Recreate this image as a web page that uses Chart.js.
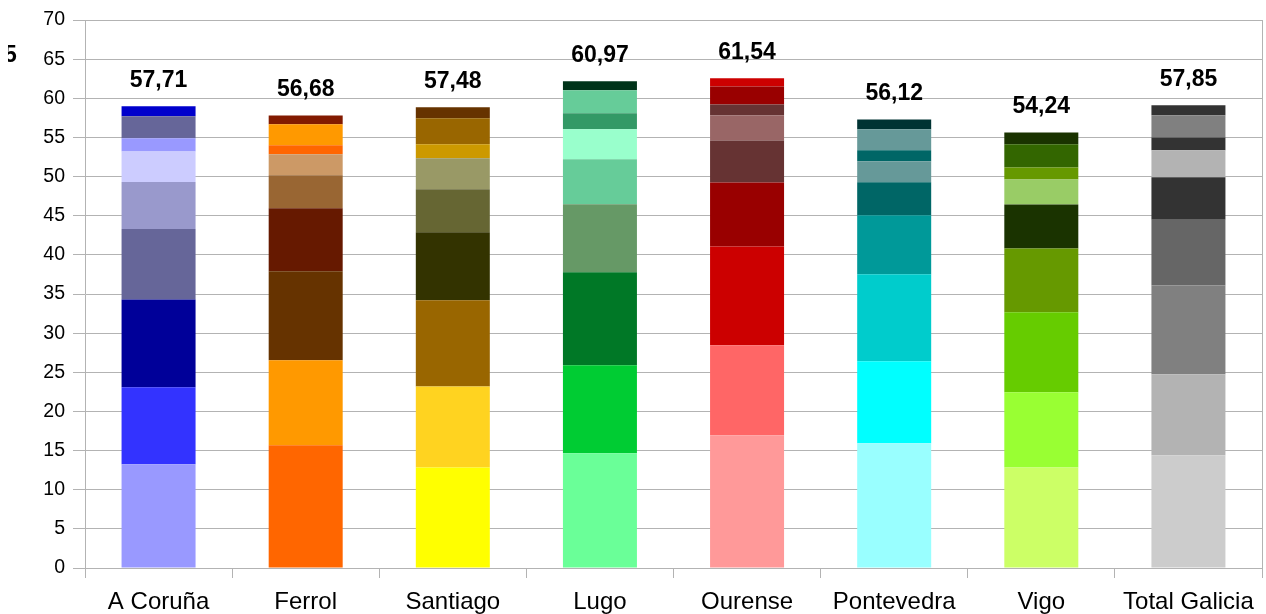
<!DOCTYPE html>
<html>
<head>
<meta charset="utf-8">
<script src="https://cdn.jsdelivr.net/npm/chart.js@4/dist/chart.umd.min.js"></script>
<style>
  html, body { margin: 0; padding: 0; background: #fff; }
  #wrap { width: 1266px; height: 614px; }
</style>
</head>
<body>
<div id="wrap"><canvas id="chart" width="1266" height="614"></canvas></div>
<script>
// categories along the x axis
const categories = ["A Coruña", "Ferrol", "Santiago", "Lugo", "Ourense", "Pontevedra", "Vigo", "Total Galicia"];

// stacked segments, bottom to top (one array per stack level)
const seg1 = [13.25, 15.67, 12.85, 14.65, 16.96, 15.93, 12.85, 14.40];
const seg2 = [9.83, 10.86, 10.35, 11.24, 11.49, 10.47, 9.59, 10.34];
const seg3 = [11.22, 11.37, 10.99, 11.88, 12.62, 11.13, 10.22, 11.36];
const seg4 = [9.00, 8.05, 8.69, 8.69, 8.17, 7.53, 8.16, 8.40];
const seg5 = [6.00, 4.22, 5.49, 5.74, 5.36, 4.22, 5.62, 5.40];
const seg6 = [3.90, 2.68, 3.96, 3.84, 3.22, 2.68, 3.20, 3.46];
const seg7 = [1.70, 1.15, 1.79, 2.04, 1.40, 1.40, 1.52, 1.64];
const seg8 = [2.80, 2.67, 3.32, 2.94, 2.30, 2.68, 2.96, 2.82];
const seg9 = [1.27, 1.13, 1.41, 1.15, 1.03, 1.26, 1.52, 1.28];

// value printed above each bar
const totals = [57.71, 56.68, 57.48, 60.97, 61.54, 56.12, 54.24, 57.85];

// y axis ticks
const yMin = 0, yMax = 70, yStep = 5;

// colours per category, bottom to top
const palette = [
    ["#9999FF", "#3333FF", "#000099", "#666699", "#9999CC", "#CCCCFF", "#9999FF", "#666699", "#0000CC"],
    ["#FF6600", "#FF9900", "#663300", "#661900", "#996633", "#CC9966", "#FF6600", "#FF9900", "#821A00"],
    ["#FFFF00", "#FFD320", "#996600", "#333300", "#666633", "#999966", "#CC9900", "#996600", "#663300"],
    ["#6AFF98", "#00CC33", "#007826", "#669966", "#66CC99", "#99FFCC", "#339966", "#66CC99", "#003319"],
    ["#FF9999", "#FF6666", "#CC0000", "#990000", "#663333", "#996666", "#663333", "#990000", "#CC0000"],
    ["#99FFFF", "#00FFFF", "#00CCCC", "#009999", "#006666", "#669999", "#006666", "#669999", "#003333"],
    ["#CCFF66", "#99FF33", "#66CC00", "#669900", "#1A3300", "#99CC66", "#669900", "#336600", "#1A3300"],
    ["#CCCCCC", "#B3B3B3", "#808080", "#666666", "#333333", "#B3B3B3", "#333333", "#808080", "#333333"]
];

const segments = [seg1, seg2, seg3, seg4, seg5, seg6, seg7, seg8, seg9];
const gridColor = "#b3b3b3";
const font = "'Liberation Sans', Arial, sans-serif";

const datasets = segments.map((vals, level) => ({
    label: "s" + (level + 1),
    data: vals,
    backgroundColor: palette.map(cols => cols[level]),
    borderWidth: 0,
    barPercentage: 0.503,
    categoryPercentage: 1.0
}));

// labels above the bars + right frame line + clipped "5"
const extras = {
    id: "extras",
    afterDraw(chart) {
        const ctx = chart.ctx;
        const area = chart.chartArea;
        ctx.save();
        ctx.strokeStyle = gridColor;
        ctx.lineWidth = 1;
        ctx.beginPath();
        ctx.moveTo(Math.round(area.right) + 0.5, area.top);
        ctx.lineTo(Math.round(area.right) + 0.5, area.bottom);
        ctx.stroke();

        const top = chart.getDatasetMeta(segments.length - 1);
        ctx.fillStyle = "#000";
        ctx.font = "bold 23px " + font;
        ctx.textAlign = "center";
        ctx.textBaseline = "middle";
        top.data.forEach((bar, i) => {
            ctx.fillText(totals[i].toFixed(2).replace(".", ","), bar.x, bar.y - 26);
        });

        ctx.beginPath();
        ctx.rect(8, 0, 20, 100);
        ctx.clip();
        ctx.textAlign = "left";
        ctx.fillText("5", 4, 56);
        ctx.restore();
    }
};

new Chart(document.getElementById("chart"), {
    type: "bar",
    data: { labels: categories, datasets: datasets },
    options: {
        responsive: false,
        devicePixelRatio: 1,
        animation: false,
        layout: { padding: { left: 0, right: 4, top: 20, bottom: 0 } },
        plugins: { legend: { display: false }, tooltip: { enabled: false } },
        scales: {
            x: {
                stacked: true,
                grid: { offset: true, drawOnChartArea: false, drawTicks: true, tickLength: 10, color: gridColor },
                border: { color: gridColor },
                ticks: { color: "#000", font: { family: font, size: 24 }, padding: 10, maxRotation: 0 },
                afterFit: s => { s.height = 46; }
            },
            y: {
                stacked: true,
                min: yMin,
                max: yMax,
                grid: { color: gridColor, tickLength: 12 },
                border: { color: gridColor },
                ticks: { stepSize: yStep, color: "#000", font: { family: font, size: 19.5 }, padding: 8 },
                afterFit: s => { s.width = 85; }
            }
        }
    },
    plugins: [extras]
});
</script>
</body>
</html>
